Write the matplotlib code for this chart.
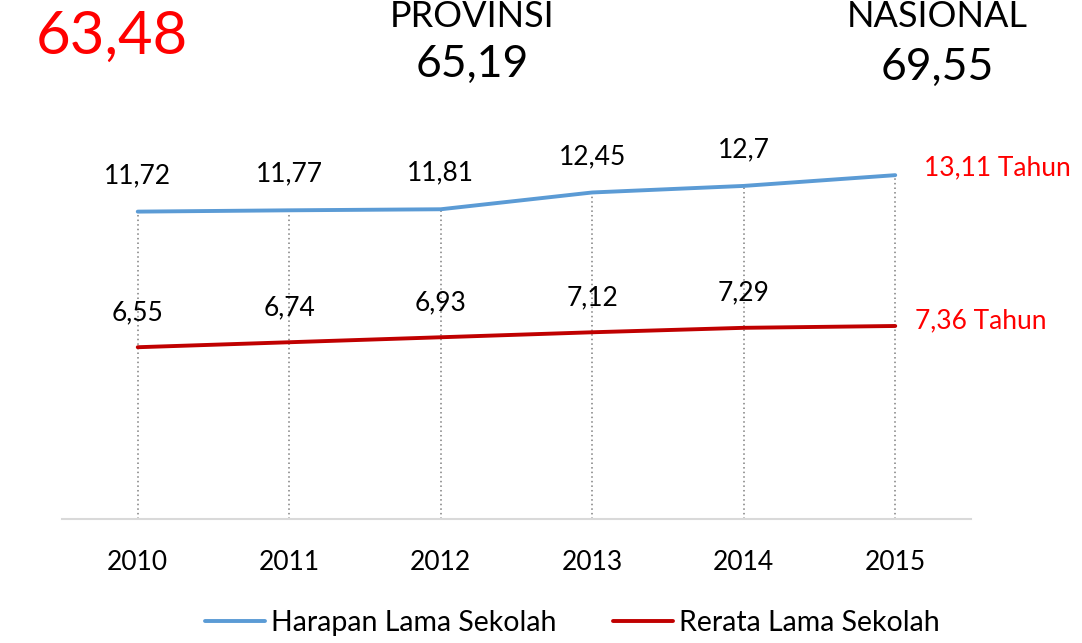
import matplotlib.pyplot as plt

plt.rcParams['font.family'] = ['Lato', 'DejaVu Sans']

# Data
years = ["2010", "2011", "2012", "2013", "2014", "2015"]
harapan = [11.72, 11.77, 11.81, 12.45, 12.70, 13.11]
rerata = [6.55, 6.74, 6.93, 7.12, 7.29, 7.36]
harapan_labels = ["11,72", "11,77", "11,81", "12,45", "12,7"]
rerata_labels = ["6,55", "6,74", "6,93", "7,12", "7,29"]

blue = "#5B9BD5"
red = "#C00000"

fig = plt.figure(figsize=(10.82, 6.43), dpi=100)
ax = fig.add_axes([0.0573, 0.1928, 0.8401, 0.618])

x = list(range(len(years)))

# drop lines
for i in x:
    ax.vlines(i, 0, harapan[i], colors="#7F7F7F", linestyles=(0, (1, 2)), linewidth=1.1, zorder=1)

ax.plot(x, harapan, color=blue, linewidth=2.8, label="Harapan Lama Sekolah", zorder=3, solid_capstyle="round")
ax.plot(x, rerata, color=red, linewidth=2.8, label="Rerata Lama Sekolah", zorder=3, solid_capstyle="round")

for i, lab in enumerate(harapan_labels):
    ax.annotate(lab, (i, harapan[i]), xytext=(0, 26), textcoords="offset points",
                ha="center", va="center", fontsize=19)
for i, lab in enumerate(rerata_labels):
    ax.annotate(lab, (i, rerata[i]), xytext=(0, 25), textcoords="offset points",
                ha="center", va="center", fontsize=19)

ax.annotate("13,11 Tahun", (5, harapan[5]), xytext=(21, 5), textcoords="offset points",
            ha="left", va="center", fontsize=19, color="#FF0000", annotation_clip=False)
ax.annotate("7,36 Tahun", (5, rerata[5]), xytext=(14, 4), textcoords="offset points",
            ha="left", va="center", fontsize=19, color="#FF0000", annotation_clip=False)

ax.set_xlim(-0.5, 5.5)
ax.set_ylim(0, 15.15)
ax.set_xticks(x)
ax.set_xticklabels(years, fontsize=19)
ax.tick_params(axis="x", length=0, pad=22)
ax.set_yticks([])
for s in ["top", "left", "right"]:
    ax.spines[s].set_visible(False)
ax.spines["bottom"].set_color("#D9D9D9")
ax.spines["bottom"].set_linewidth(1.5)

fig.legend(loc="center", bbox_to_anchor=(0.529, 0.031), ncol=2, frameon=False,
           fontsize=20.5, handlelength=2.1, handletextpad=0.2, columnspacing=2.0)

# top texts
fig.text(0.1035, 0.942, "63,48", fontsize=43, color="#FF0000", ha="center", va="center")
fig.text(0.4365, 0.958, "PROVINSI", fontsize=26, ha="center", va="baseline")
fig.text(0.436, 0.900, "65,19", fontsize=32, ha="center", va="center")
fig.text(0.8665, 0.958, "NASIONAL", fontsize=26, ha="center", va="baseline")
fig.text(0.866, 0.895, "69,55", fontsize=32, ha="center", va="center")

plt.savefig("out.png", dpi=100)
